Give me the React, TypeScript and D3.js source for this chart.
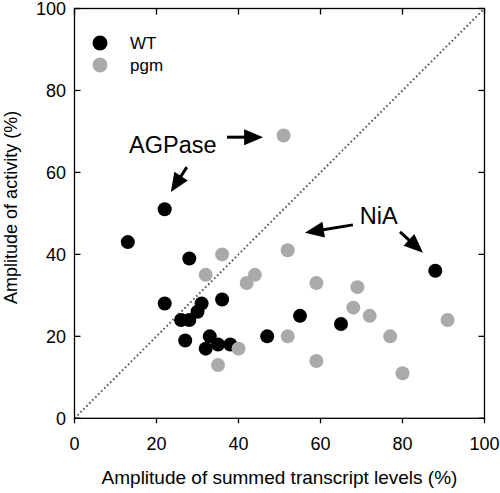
import React from "react";
import * as d3 from "d3";

const wtX = [22, 13, 28, 22, 36, 31, 30, 26, 28, 27, 33, 32, 35, 38, 47, 88, 55, 65];
const wtY = [51, 43, 39, 28, 29, 28, 26, 24, 24, 19, 20, 17, 18, 18, 20, 36, 25, 23];
const pgmX = [36, 32, 44, 42, 40, 35, 52, 59, 69, 68, 72, 91, 52, 77, 59, 80, 51];
const pgmY = [40, 35, 35, 33, 17, 13, 41, 33, 32, 27, 25, 24, 20, 20, 14, 11, 69];
const ticks = [0, 20, 40, 60, 80, 100];
const seriesNames = ["WT", "pgm"];
const annotations = [
  { text: "AGPase", x: 13.3, y: 64.8 },
  { text: "NiA", x: 69.6, y: 47.4 },
];
const arrows = [
  { x0: 37.2, y0: 68.6, x1: 46.0, y1: 68.6 },
  { x0: 27.4, y0: 61.3, x1: 23.5, y1: 55.2 },
  { x0: 67.9, y0: 47.2, x1: 56.2, y1: 45.3 },
  { x0: 79.4, y0: 45.5, x1: 85.0, y1: 40.4 },
];

const W = 500, H = 493;
const FONT = "'Liberation Sans', Arial, Helvetica, sans-serif";

export default function App() {
  const x = d3.scaleLinear().domain([0, 100]).range([74.5, 484.5]);
  const y = d3.scaleLinear().domain([0, 100]).range([418.3, 8.5]);
  const x0 = x(0), x1 = x(100), y0 = y(0), y1 = y(100);

  const arrowEl = (a: any, i: number) => {
    const sx = x(a.x0), sy = y(a.y0), ex = x(a.x1), ey = y(a.y1);
    const dx = ex - sx, dy = ey - sy;
    const len = Math.hypot(dx, dy);
    const ux = dx / len, uy = dy / len;
    const hl = 19, hw = 8;
    const bx = ex - ux * hl, by = ey - uy * hl;
    const pts = [
      [ex, ey],
      [bx - uy * hw, by + ux * hw],
      [bx + uy * hw, by - ux * hw],
    ];
    return (
      <g key={i}>
        <line x1={sx} y1={sy} x2={bx + ux * 2} y2={by + uy * 2} stroke="#000" strokeWidth={3} />
        <polygon points={pts.map((p) => p.join(",")).join(" ")} fill="#000" />
      </g>
    );
  };

  return (
    <svg width={W} height={H} style={{ position: "absolute", left: 0, top: 0 }} fontFamily={FONT}>
      <rect width={W} height={H} fill="#fff" />
      <line x1={x(0)} y1={y(0)} x2={x(100)} y2={y(100)} stroke="#555" strokeWidth={2} strokeDasharray="1.6 2.6" />
      <rect x={x0} y={y1} width={x1 - x0} height={y0 - y1} fill="none" stroke="#000" strokeWidth={1.3} />
      {ticks.map((t) => (
        <g key={"t" + t}>
          <line x1={x(t)} x2={x(t)} y1={y0} y2={y0 + 5} stroke="#000" strokeWidth={1.3} />
          <line x1={x(t)} x2={x(t)} y1={y1} y2={y1 + 6} stroke="#000" strokeWidth={1.3} />
          <line x1={x0} x2={x0 + 6} y1={y(t)} y2={y(t)} stroke="#000" strokeWidth={1.3} />
          <line x1={x1} x2={x1 - 6} y1={y(t)} y2={y(t)} stroke="#000" strokeWidth={1.3} />
          <text x={x(t)} y={450} fontSize={18} textAnchor="middle" fill="#000">{t}</text>
          <text x={66} y={y(t) + 6.5} fontSize={18} textAnchor="end" fill="#000">{t}</text>
        </g>
      ))}
      {wtX.map((v, i) => (
        <circle key={"w" + i} cx={x(v)} cy={y(wtY[i])} r={7} fill="#000" />
      ))}
      {pgmX.map((v, i) => (
        <circle key={"p" + i} cx={x(v)} cy={y(pgmY[i])} r={7} fill="#aaaaaa" />
      ))}
      {seriesNames.map((n, i) => (
        <g key={n}>
          <circle cx={100} cy={43 + i * 22} r={7.5} fill={i === 0 ? "#000" : "#aaaaaa"} />
          <text x={130} y={49 + i * 22} fontSize={17} fill="#000">{n}</text>
        </g>
      ))}
      {annotations.map((a) => (
        <text key={a.text} x={x(a.x)} y={y(a.y)} fontSize={23.5} fill="#000">{a.text}</text>
      ))}
      {arrows.map(arrowEl)}
      <text x={(x0 + x1) / 2} y={484} fontSize={19} textAnchor="middle" fill="#000">
        Amplitude of summed transcript levels (%)
      </text>
      <text transform={`translate(17, ${(y0 + y1) / 2 - 6}) rotate(-90)`} fontSize={18} textAnchor="middle" fill="#000">
        Amplitude of activity (%)
      </text>
    </svg>
  );
}
